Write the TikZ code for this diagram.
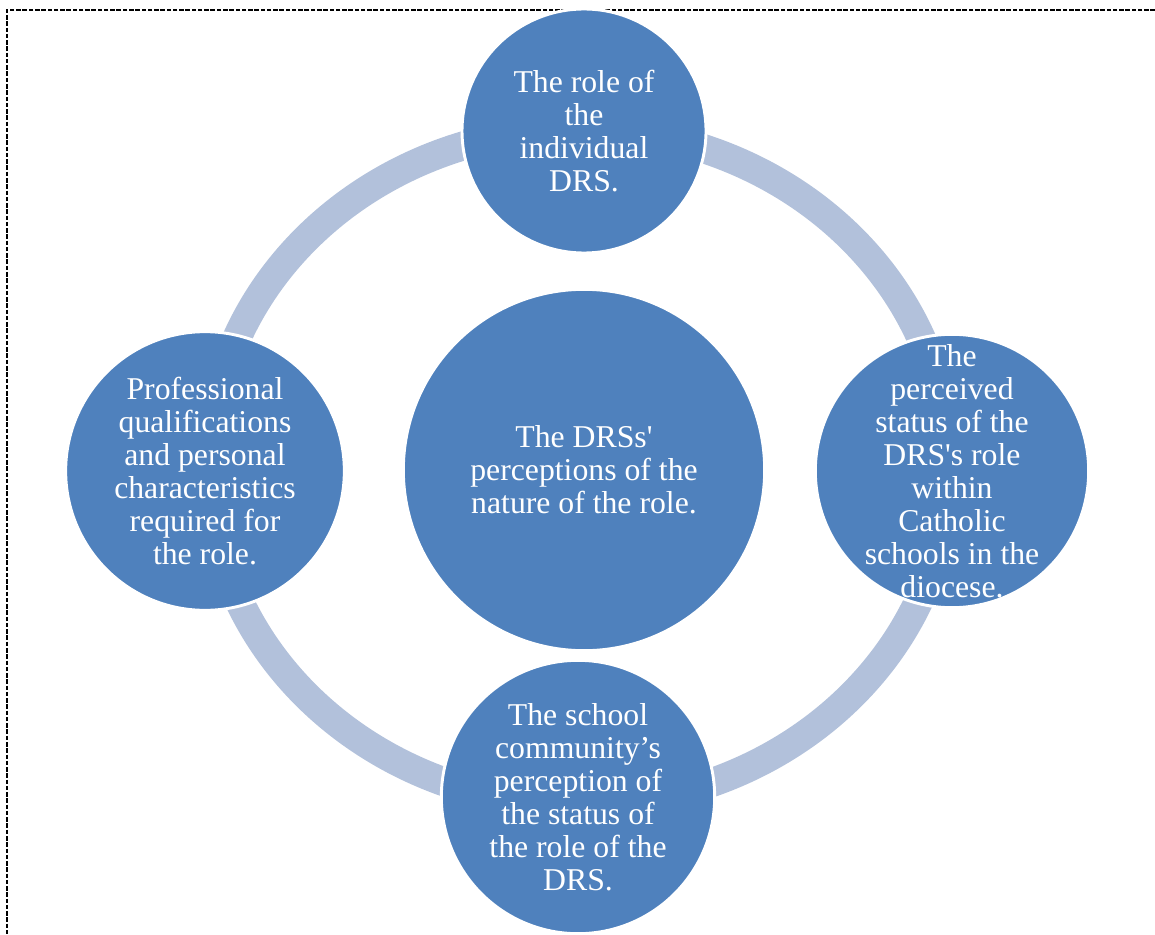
\documentclass[tikz,border=0pt]{standalone}
\usepackage{fontspec}
\setmainfont{Liberation Serif}
\definecolor{discblue}{HTML}{4F81BD}
\definecolor{ringblue}{HTML}{B2C1DB}
\begin{document}
\begin{tikzpicture}[x=0.75pt,y=-0.75pt,
  disc/.style={circle, fill=discblue, draw=white, line width=2.2pt, inner sep=0pt},
  caption/.style={text=white, align=center, inner sep=0pt,
    font=\fontsize{23.8pt}{24.75pt}\selectfont},
  frame/.style={black, line width=2.2pt, dash pattern=on 3.4pt off 1.3pt},
  ringline/.style={ringblue, line width=21.75pt}]
\useasboundingbox (0,0) rectangle (1155,934);

% dashed page frame (top and left edges only)
\draw[frame] (1155,10) -- (7,10) -- (7,934);

% the cycle ring behind the outer discs
\coordinate (hub) at (579,467);
\draw[ringline] (hub) ellipse [x radius=370, y radius=338];

% central disc
\node[disc, minimum size=271pt,
  label={[caption]center:{The DRSs\textquotesingle\\perceptions of the\\nature of the role.}}]
  (core) at (584,470) {};

% outer discs
\node[disc, minimum size=183pt,
  label={[caption]center:{The role of\\the\\individual\\DRS.}}]
  (north) at (584,131) {};
\node[disc, minimum size=209pt,
  label={[caption]center:{Professional\\qualifications\\and personal\\characteristics\\required for\\the role.}}]
  (west) at (205,471) {};
\node[disc, minimum size=205pt,
  label={[caption]center:{The\\perceived\\status of the\\DRS\textquotesingle s role\\within\\Catholic\\schools in the\\diocese.}}]
  (east) at (952,471) {};
\node[disc, minimum size=205pt,
  label={[caption]center:{The school\\community’s\\perception of\\the status of\\the role of the\\DRS.}}]
  (south) at (578,797) {};
\end{tikzpicture}
\end{document}
